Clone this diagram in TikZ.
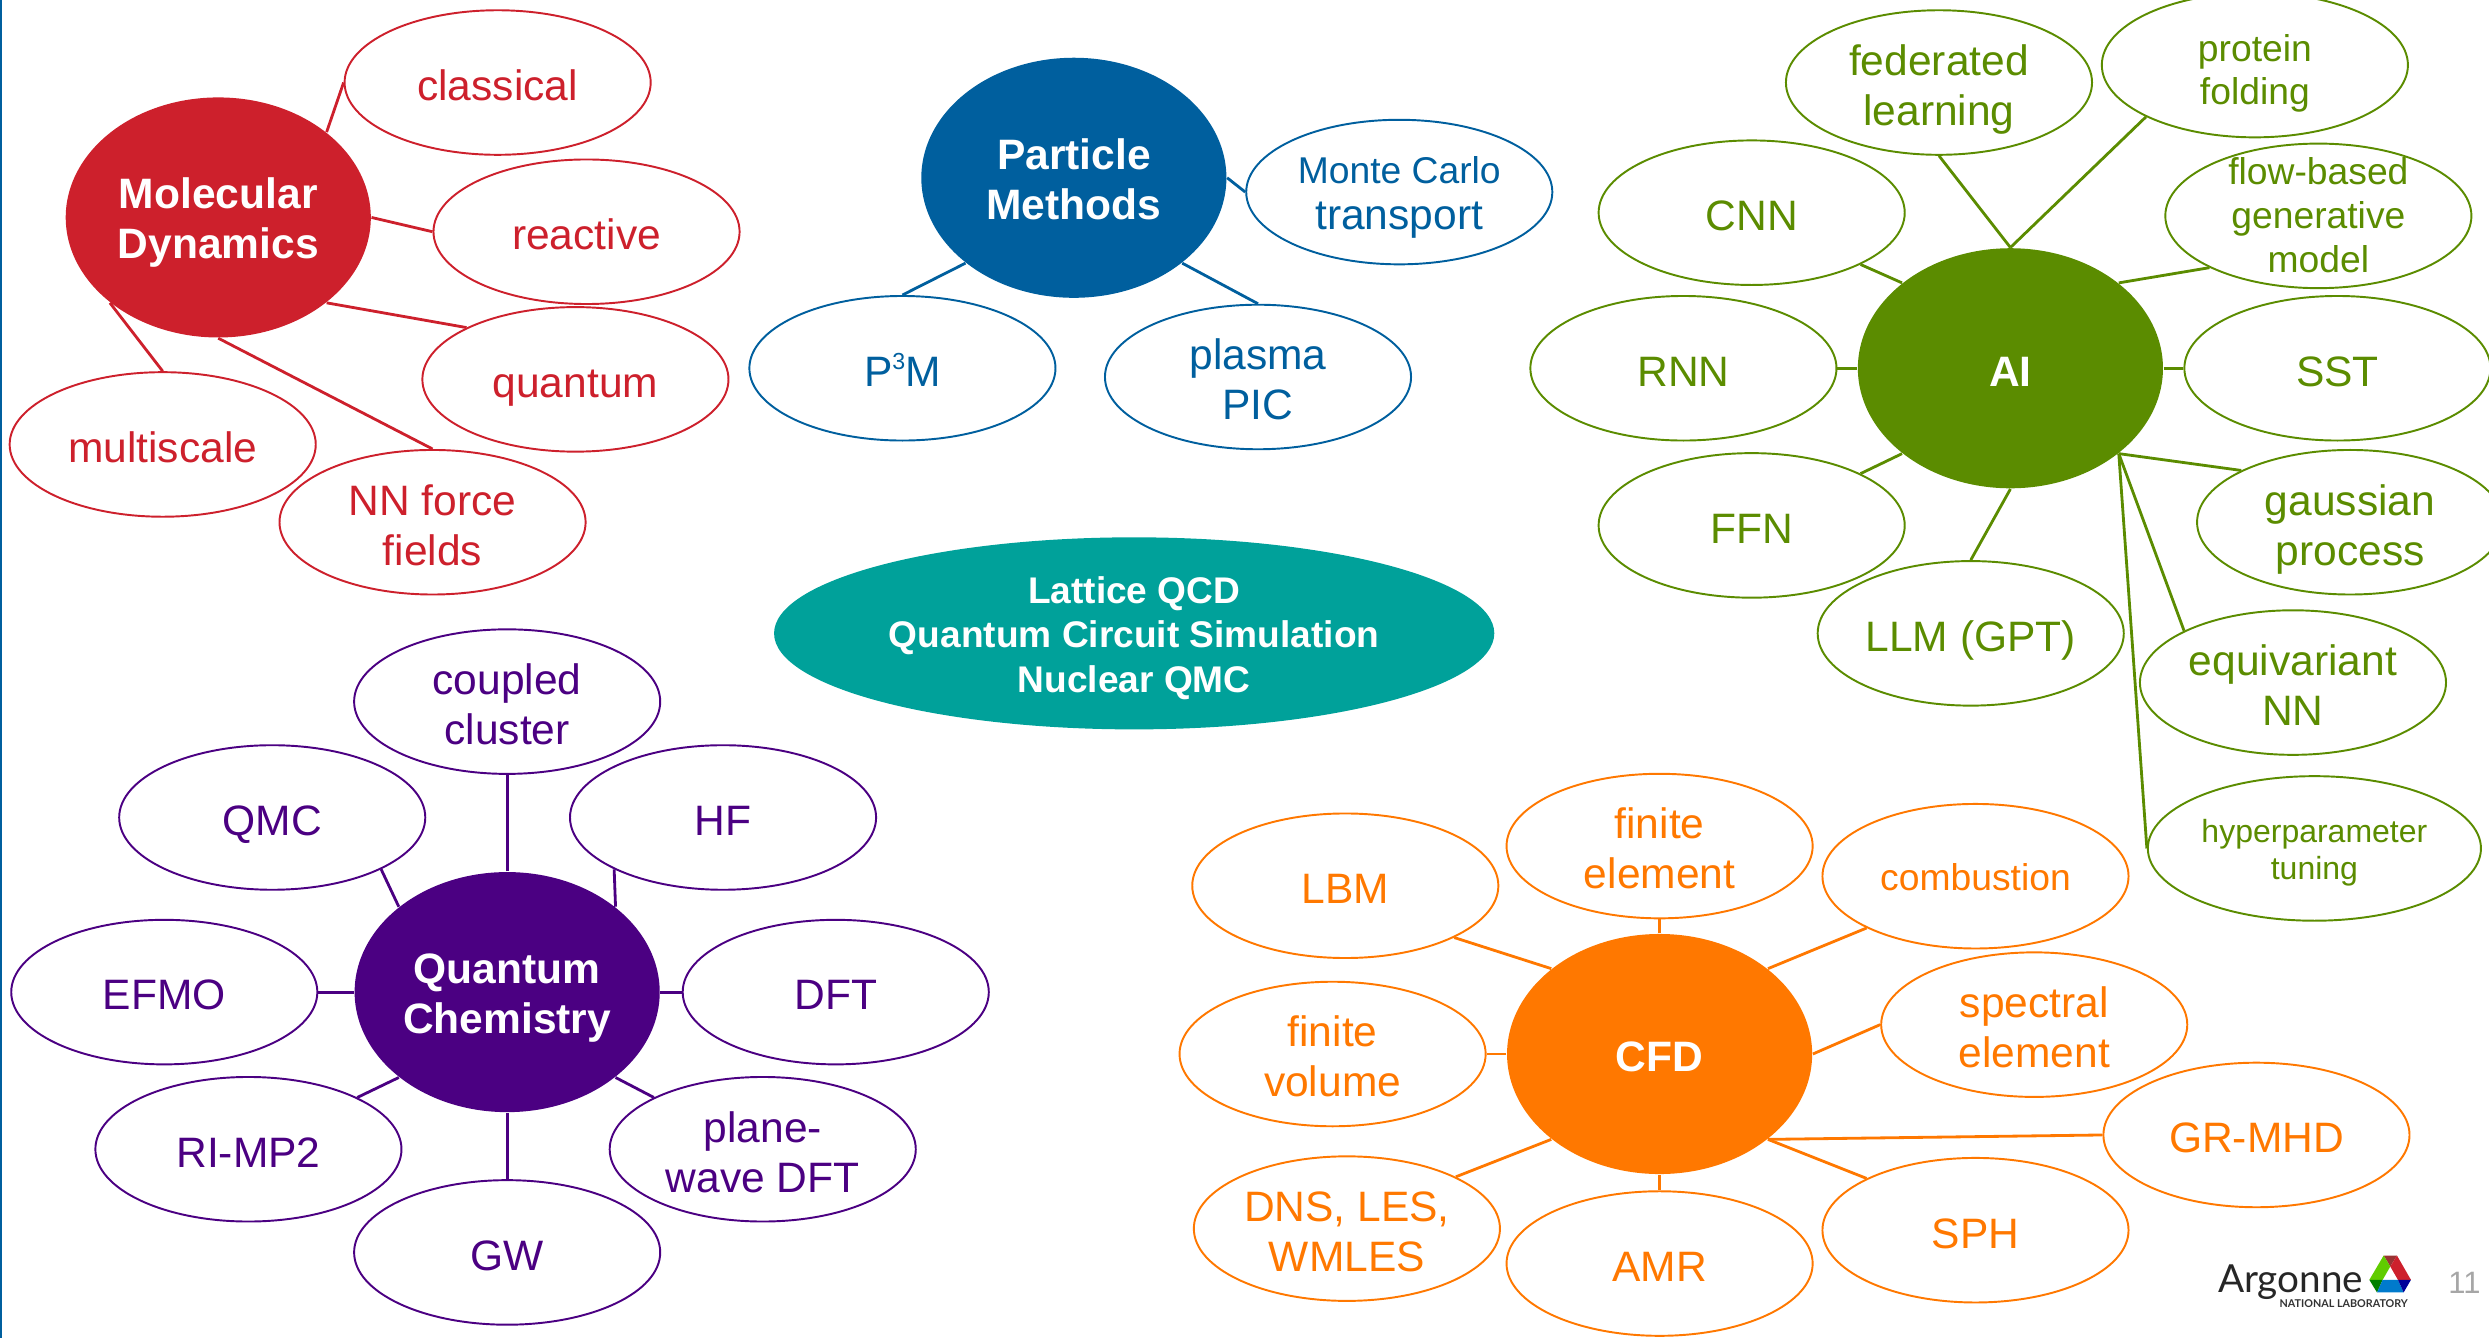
\documentclass[tikz,border=0pt]{standalone}
\usepackage{fontspec}
\setmainfont{Liberation Sans}
\newfontfamily\logofont{Lato}
\usetikzlibrary{shapes.geometric}

\definecolor{mdred}{HTML}{CD202C}
\definecolor{pmblue}{HTML}{005F9E}
\definecolor{aigreen}{HTML}{5B8C00}
\definecolor{qcpurple}{HTML}{4B0082}
\definecolor{cfdorange}{HTML}{FF7800}
\definecolor{qcdteal}{HTML}{00A19A}
\newcommand{\smalltxt}{\fontsize{10.6}{12.6}\selectfont}
\newcommand{\tinytxt}{\fontsize{9.1}{10.6}\selectfont}
\newcommand{\uprule}{\rule{0pt}{13.08pt}}
\newcommand{\upmid}{\rule{0pt}{12.2pt}}
\newcommand{\upsmall}{\rule{0pt}{11.2pt}}
\newcommand{\uplow}{\rule{0pt}{10.08pt}}
\newcommand{\dnrule}{\rule[-2.92pt]{0pt}{2.92pt}}

\tikzset{
	leaf/.style={ellipse, draw=#1, text=#1, line width=0.55pt, inner sep=-1cm, align=center,
		minimum width=3.06cm, minimum height=1.445cm, font=\fontsize{12.1}{14.2}\selectfont},
	hub/.style={ellipse, fill=#1, text=white, inner sep=-1cm, align=center,
		minimum width=3.05cm, minimum height=2.4cm, font=\fontsize{12.1}{14.2}\selectfont\bfseries},
	link/.style={draw=#1, line width=0.8pt},
}

\begin{document}
\begin{tikzpicture}[x=0.015874cm, y=-0.015874cm]
	\useasboundingbox (-0.5,0) rectangle (1567.5,842.9);
	\fill[pmblue] (-0.5,0) rectangle (1,842.9);

	% Draw the molecular dynamics group
	\node[hub=mdred] (md) at (137,137) {\upmid Molecular\\Dynamics\dnrule};
	\foreach \id/\x/\y/\txt in {classical/313/52/classical, reactive/369/146/reactive, quantum/362/239/quantum,
		multiscale/102/280/multiscale, nnforce/272/329/NN force\\fields}
	{
		\node[leaf=mdred] (\id) at (\x,\y) {\uprule\txt\dnrule};
	}
	\foreach \a/\b in {md.north east/classical.west, md.east/reactive.west, md.south east/quantum.north west,
		md.south west/multiscale.north, md.south/nnforce.north}
	{
		\draw[link=mdred] (\a) -- (\b);
	}

	% Draw the particle methods group
	\node[hub=pmblue] (pm) at (676,112) {\upmid Particle\\Methods\dnrule};
	\foreach \id/\x/\y/\txt in {pppm/568/232/{P\raisebox{4.6pt}{\fontsize{6.6}{7}\selectfont 3}M}, plasma/792/237.5/plasma\\PIC}
	{
		\node[leaf=pmblue] (\id) at (\x,\y) {\uprule\txt\dnrule};
	}
	\node[leaf=pmblue] (monte) at (881,121) {\upsmall\smalltxt Monte Carlo\\[-1pt]transport\dnrule};
	\foreach \a/\b in {pm.east/monte.west, pm.south west/pppm.north, pm.south east/plasma.north}
	{
		\draw[link=pmblue] (\a) -- (\b);
	}

	% Draw the AI group
	\node[hub=aigreen] (ai) at (1266,232) {\uprule AI\dnrule};
	\foreach \id/\x/\y/\txt in {federated/1221/52/federated\\learning, protein/1420/41/\smalltxt protein\\[-1.8pt]\smalltxt folding,
		cnn/1103/134/CNN, rnn/1060/232/RNN, sst/1472/232/SST,
		ffn/1103/331/FFN, gaussian/1480/329/gaussian\\process, llm/1241/399/LLM (GPT),
		equivariant/1444/430/equivariant\\NN}
	{
		\node[leaf=aigreen] (\id) at (\x,\y) {\uprule\txt\dnrule};
	}
	\node[leaf=aigreen] (flow) at (1460,136) {\uplow\smalltxt flow-based\\[-1.8pt]\smalltxt generative\\[-1.8pt]\smalltxt model\dnrule};
	\node[leaf=aigreen, minimum width=3.33cm] (hyper) at (1457.5,534.5) {\uplow\tinytxt hyperparameter\\[-3.8pt]\tinytxt tuning\dnrule};
	\foreach \a/\b in {ai.north/federated.south, ai.north/protein.south west, ai.north east/flow.south west,
		ai.north west/cnn.south east, ai.west/rnn.east, ai.east/sst.west, ai.south west/ffn.north east,
		ai.south east/gaussian.north west, ai.south/llm.north, ai.south east/equivariant.north west, ai.south east/hyper.west}
	{
		\draw[link=aigreen] (\a) -- (\b);
	}

	% Draw the quantum chemistry group
	\node[hub=qcpurple] (qc) at (319,625) {\upmid Quantum\\Chemistry\dnrule};
	\foreach \id/\x/\y/\txt in {coupled/319/442/coupled\\cluster, qmc/171/515/QMC, hf/455/515/HF, efmo/103/625/EFMO,
		dft/526/625/DFT, rimp/156/724/RI-MP2, plane/480/724/plane-\\wave DFT, gw/319/789/GW}
	{
		\node[leaf=qcpurple] (\id) at (\x,\y) {\uprule\txt\dnrule};
	}
	\foreach \a/\b in {qc.north/coupled.south, qc.north west/qmc.south east, qc.north east/hf.south west, qc.west/efmo.east,
		qc.east/dft.west, qc.south west/rimp.north east, qc.south east/plane.north west, qc.south/gw.north}
	{
		\draw[link=qcpurple] (\a) -- (\b);
	}

	% Draw the CFD group
	\node[hub=cfdorange] (cfd) at (1045,664) {\uprule CFD\dnrule};
	\foreach \id/\x/\y/\txt in {felement/1045/533/finite\\element, lbm/847/558/LBM,
		fvolume/839/664/finite\\volume, spectral/1281/645.5/spectral\\element, grmhd/1421/715/GR-MHD,
		{dns/848/774/{DNS, LES,\\WMLES}}, sph/1244/775/SPH, amr/1045/796/AMR}
	{
		\node[leaf=cfdorange] (\id) at (\x,\y) {\uprule\txt\dnrule};
	}
	\node[leaf=cfdorange] (combustion) at (1244,552) {\upsmall\smalltxt combustion\dnrule};
	\foreach \a/\b in {cfd.north/felement.south, cfd.north west/lbm.south east, cfd.north east/combustion.south west,
		cfd.west/fvolume.east, cfd.east/spectral.west, cfd.south east/grmhd.west, cfd.south west/dns.north east,
		cfd.south east/sph.north west, cfd.south/amr.north}
	{
		\draw[link=cfdorange] (\a) -- (\b);
	}

	% Draw the centre ellipse
	\node[ellipse, fill=qcdteal, text=white, inner sep=-1cm, align=center, minimum width=7.2cm, minimum height=1.92cm,
		font=\fontsize{10.55}{12.6}\selectfont\bfseries] (lattice) at (714,399) {\upsmall Lattice QCD\\Quantum Circuit Simulation\\Nuclear QMC\dnrule};

	% Draw the logo and page number
	\node[text=black!85, inner sep=0, font=\logofont\fontsize{11}{12}\selectfont] (argonne) at (1442.5,807.5) {Argonne};
	\node[text=black!80, inner sep=0, font=\logofont\bfseries\fontsize{3.06}{4}\selectfont] (natlab) at (1476,821) {NATIONAL LABORATORY};
	\node[text=black!35, inner sep=0, font=\fontsize{8.8}{10}\selectfont] (pagenum) at (1552,808) {11};
	\begin{scope}[shift={(1354.4,755.95)}, x=0.003334cm, y=-0.003334cm]
		\fill[red!50!black!80!white] (700,167) -- (740,167) -- (720,200) -- cycle;
		\fill[green!60!black!50!lime] (700,167) -- (720,200) -- (697,240) -- (657,240) -- cycle;
		\fill[mdred] (740,167) -- (782,240) -- (743,240) -- (720,200) -- cycle;
		\fill[green!50!black] (657,240) -- (697,240) -- (680,278) -- cycle;
		\fill[blue!40!cyan!80!black] (697,240) -- (743,240) -- (760,278) -- (680,278) -- cycle;
		\fill[blue!60!black] (743,240) -- (782,240) -- (760,278) -- cycle;
	\end{scope}
\end{tikzpicture}
\end{document}
